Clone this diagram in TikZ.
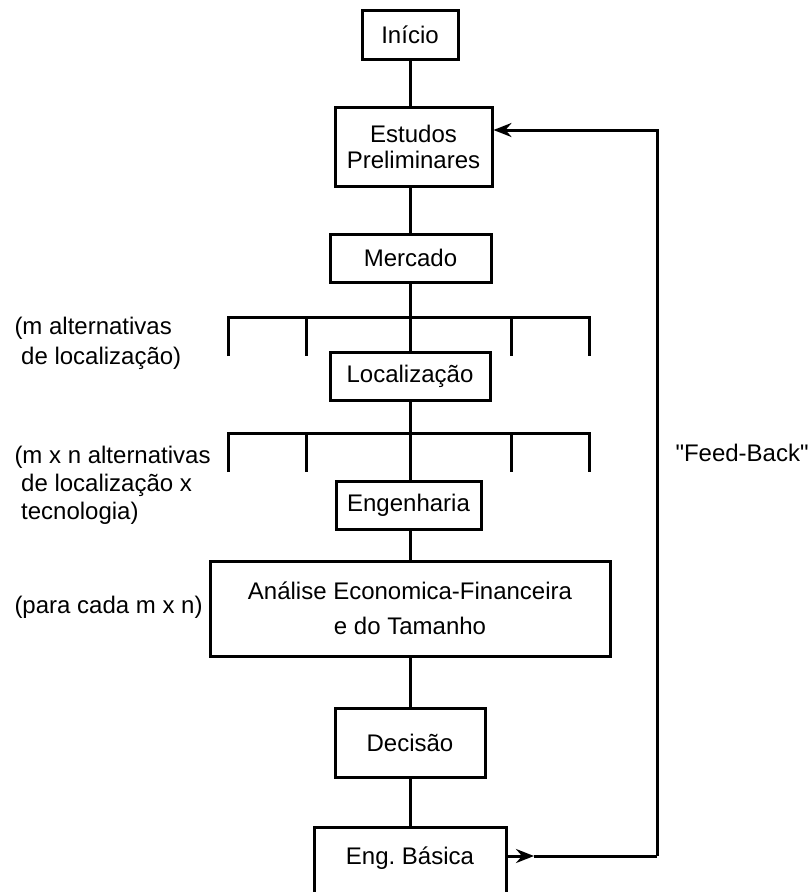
\documentclass[tikz,border=0pt]{standalone}
\usepackage{fontspec}
\setmainfont{Liberation Sans}
% same family without TeX ligature mapping, for straight quotes
\newfontfamily\plainquotes{Liberation Sans}
\usetikzlibrary{arrows.meta}
\begin{document}
\frenchspacing
\begin{tikzpicture}[x=1pt,y=-1pt,
  line width=3pt,
  every node/.style={font=\fontsize{24}{26}\selectfont},
  box/.style={draw,line width=3pt,inner sep=0pt,align=center},
  lbl/.style={anchor=west,align=left,inner sep=0pt},
  tip/.style={-{Stealth[length=18pt,width=14pt,inset=6pt]}},
  ]
  \useasboundingbox (0,0) rectangle (809,892);
  \clip (0,0) rectangle (809,892);

  % process boxes
  \node[box,minimum width=96pt,minimum height=49pt] (ini) at (410,34.5) {Início};
  \node[box,minimum width=157pt,minimum height=79pt] (est) at (413.5,146.5) {Estudos\\Preliminares};
  \node[box,minimum width=161pt,minimum height=48pt] (mer) at (410.5,258) {Mercado};
  \node[box,minimum width=160pt,minimum height=48pt] (loc) at (410,376) {Localização};
  \node[box,minimum width=145pt,minimum height=48pt] (eng) at (408.5,505) {Engenharia};
  \node[box,minimum width=400pt,minimum height=95pt,
        font=\fontsize{24}{35}\selectfont] (ana) at (410,608.5) {Análise Economica-Financeira\\e do Tamanho};
  \node[box,minimum width=150pt,minimum height=69pt] (dec) at (410,742.5) {Decisão};
  \node[box,minimum width=192pt,minimum height=70pt,anchor=north] (eb) at (410,826) {};
  \node (ebt) at (410,858) {Eng. Básica};

  % side notes
  \node[lbl,font=\fontsize{24}{30}\selectfont] (n1) at (13,343) {(m alternativas\\\ de localização)};
  \node[lbl,font=\fontsize{24}{28}\selectfont] (n2) at (13,485) {(m x n alternativas\\\ de localização x\\\ tecnologia)};
  \node[lbl] (n3) at (13,607) {(para cada m x n)};
  \node[lbl,font=\fontsize{24}{26}\plainquotes] (fbt) at (674,453) {"Feed-Back"};

  % branching bars
  \coordinate (b1) at (410,317);
  \coordinate (b2) at (410,433);
  \foreach \b in {b1,b2}{
    \draw (\b) ++(-182,39) -- ++(0,-39) -- ++(361,0) -- ++(0,39);
    \draw (\b) ++(-104,0) -- ++(0,39);
    \draw (\b) ++(101,0) -- ++(0,39);
  }

  % main flow
  \draw (ini.south) -- (ini.south |- est.north);
  \draw (ini.south |- est.south) -- (ini.south |- mer.north);
  \draw (ini.south |- mer.south) -- (ini.south |- loc.north);
  \draw (ini.south |- loc.south) -- (ini.south |- eng.north);
  \draw (ini.south |- eng.south) -- (ini.south |- ana.north);
  \draw (ini.south |- ana.south) -- (ini.south |- dec.north);
  \draw (dec.south) -- (eb.north);

  % feedback loop
  \coordinate (fa) at (534,856);
  \coordinate (fc) at (657,856);
  \draw[tip] (eb.east |- fa) -- (fa);
  \draw (fa) -- (fc);
  \draw[tip] (fc) -- (fc |- 0,130) -- (est.east |- 0,130);
\end{tikzpicture}
\end{document}
